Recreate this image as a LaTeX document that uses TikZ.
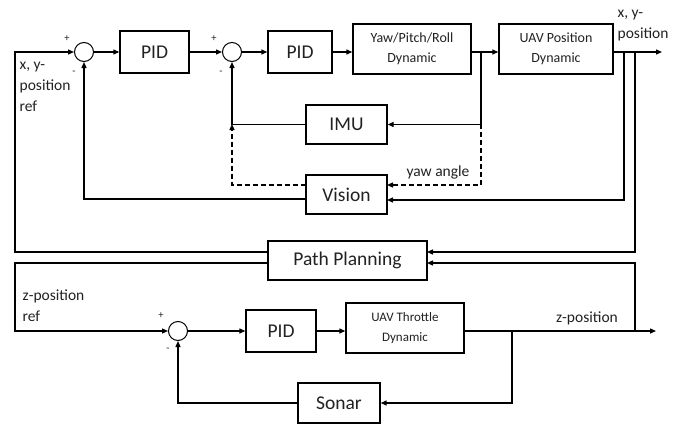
\documentclass[tikz,border=0pt]{standalone}
\usepackage{fontspec}
\setmainfont{Carlito}
\usetikzlibrary{arrows.meta,calc}
\definecolor{txt}{HTML}{222222}
\begin{document}
\begin{tikzpicture}[x=1pt,y=-1pt,
  line width=1.3pt,
  arr/.style={-{Triangle[length=6pt,width=5pt]}},
  dsh/.style={dash pattern=on 5pt off 3pt},
  blk/.style={draw,line width=1.4pt,rectangle,inner sep=0pt,align=center,text=txt},
  sumc/.style={draw,circle,line width=1pt,minimum size=19pt,inner sep=0pt},
  sgn/.style={font=\fontsize{10.5}{12}\selectfont,inner sep=0pt,text=txt},
  lbl/.style={font=\fontsize{15.5}{21}\selectfont,align=left,inner sep=0pt,text=txt},
  big/.style={font=\fontsize{19.5}{22}\selectfont},
  small/.style={font=\fontsize{14}{20}\selectfont},
  tiny/.style={font=\fontsize{13}{20}\selectfont},
]
\useasboundingbox[fill=white] (0,0) rectangle (686,426);

% blocks
\node[blk,big,minimum width=69pt,minimum height=42pt] (pid1) at (154.5,52) {PID};
\node[blk,big,minimum width=64pt,minimum height=42pt] (pid2) at (300,52) {PID};
\node[blk,small,minimum width=118pt,minimum height=50pt] (yaw) at (412,49) {Yaw/Pitch/Roll\\Dynamic};
\node[blk,small,minimum width=114pt,minimum height=50pt] (uavpos) at (556,49) {UAV Position\\Dynamic};
\node[blk,big,minimum width=81pt,minimum height=39pt] (imu) at (346.5,124.5) {IMU};
\node[blk,big,minimum width=81pt,minimum height=39pt] (vision) at (346.5,194.5) {Vision};
\node[blk,big,minimum width=159pt,minimum height=39pt] (pathplan) at (347.5,260.5) {Path Planning};
\node[blk,big,minimum width=70pt,minimum height=42pt] (pid3) at (281,331) {PID};
\node[blk,tiny,minimum width=118pt,minimum height=50pt] (throttle) at (405,328) {UAV Throttle\\Dynamic};
\node[blk,big,minimum width=82pt,minimum height=40pt] (sonar) at (339,403) {Sonar};

% summing junctions
\node[sumc] (sum1) at (84,52) {};
\node[sumc] (sum2) at (232,52) {};
\node[sumc] (sum3) at (178,331) {};

% signs
\node[sgn] (p1) at (67,39) {+};
\node[sgn] (m1) at (74,73) {-};
\node[sgn] (p2) at (214,39) {+};
\node[sgn] (m2) at (221,73) {-};
\node[sgn] (p3) at (161,316) {+};
\node[sgn] (m3) at (168,350) {-};

% labels
\node[lbl,anchor=west] (lref) at (19,87) {x, y-\\position\\ref};
\node[lbl,anchor=west] (lout) at (617,25.5) {x, y-\\position};
\node[lbl,anchor=west] (lzref) at (22,306) {z-position\\ref};
\node[lbl] (lyaw) at (438,172.5) {yaw angle};
\node[lbl] (lz) at (587,318) {z-position};

% helper coordinates
\coordinate (L1) at (15,52);
\coordinate (L2) at (15,331);
\coordinate (ppA) at (268,252);
\coordinate (ppB) at (268,263);
\coordinate (ppAr) at (427,252);
\coordinate (ppBr) at (427,263);
\coordinate (visE1) at (387,185);
\coordinate (visE2) at (387,200);
\coordinate (visW1) at (306,185);
\coordinate (visW2) at (306,199);
\coordinate (J1) at (481,52);
\coordinate (J2) at (481,124);
\coordinate (J4) at (624,52);
\coordinate (J5) at (635,52);
\coordinate (J6) at (232,124);
\coordinate (J7) at (512,331);
\coordinate (J8) at (635,331);
\coordinate (out1) at (662,52);
\coordinate (out2) at (656,331);

% connectors: xy loop
\draw[arr] (ppA) -| (L1) -- (sum1.west);
\draw[arr] (sum1.east) -- (pid1.west);
\draw[arr] (pid1.east) -- (sum2.west);
\draw[arr] (sum2.east) -- (pid2.west);
\draw[arr] (pid2.east) -- (pid2.east -| yaw.west);
\draw[arr] (yaw.east |- J1) -- (uavpos.west |- J1);
\draw[arr] (J1) |- (imu.east);
\draw[arr,dsh] (J2) |- (visE1);
\draw[arr] (uavpos.east |- J1) -- (out1);
\draw[arr] (J4) |- (visE2);
\draw[arr] (J5) |- (ppAr);
\draw[arr] (imu.west) -| (sum2.south);
\draw[arr,dsh] (visW1) -| (J6);
\draw[arr] (visW2) -| (sum1.south);

% z loop
\draw[arr] (ppB) -| (L2) -- (sum3.west);
\draw[arr] (sum3.east) -- (pid3.west);
\draw[arr] (pid3.east) -- (pid3.east -| throttle.west);
\draw[arr] (throttle.east |- J7) -- (out2);
\draw[arr] (J7) |- (sonar.east);
\draw[arr] (J8) |- (ppBr);
\draw[arr] (sonar.west) -| (sum3.south);
\end{tikzpicture}
\end{document}
